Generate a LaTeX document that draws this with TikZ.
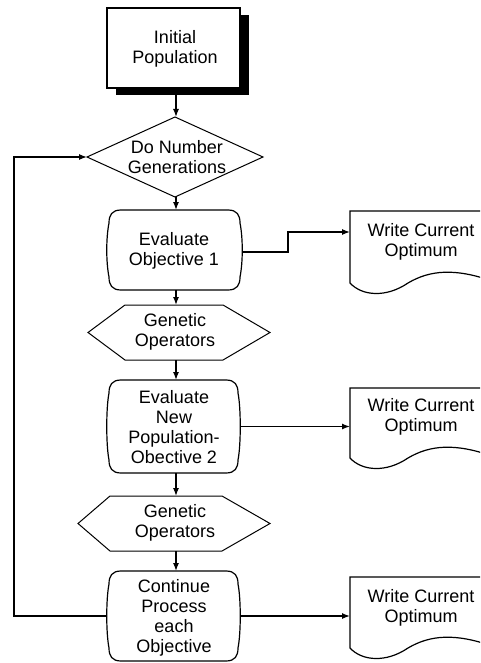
\documentclass[tikz,border=0pt]{standalone}
\usepackage{fontspec}
\setmainfont{Liberation Sans}
\usetikzlibrary{arrows.meta,calc}
\newcommand\evalshape[1]{%
  \draw[shapeline] ($(#1.north west)+(14,0)$) -- ($(#1.north east)+(-14,0)$)
   .. controls ($(#1.north east)+(-5,0)$) and ($(#1.north east)+(-2,5)$) .. ($(#1.north east)+(-2,13)$)
   .. controls ($(#1.north east)+(1,28)$) and ($(#1.south east)+(1,-28)$) .. ($(#1.south east)+(-2,-13)$)
   .. controls ($(#1.south east)+(-2,-5)$) and ($(#1.south east)+(-5,0)$) .. ($(#1.south east)+(-14,0)$)
   -- ($(#1.south west)+(14,0)$)
   .. controls ($(#1.south west)+(5,0)$) and ($(#1.south west)+(2,-5)$) .. ($(#1.south west)+(2,-13)$)
   .. controls ($(#1.south west)+(-1,-28)$) and ($(#1.north west)+(-1,28)$) .. ($(#1.north west)+(2,13)$)
   .. controls ($(#1.north west)+(2,5)$) and ($(#1.north west)+(5,0)$) .. ($(#1.north west)+(14,0)$) -- cycle;}
\newcommand\hexshape[3]{%
  \draw[thinline] (#1.west) -- ($(#1.north west)+(#2,0)$) -- ($(#1.north east)+(-#3,0)$) -- (#1.east)
   -- ($(#1.south east)+(-#3,0)$) -- ($(#1.south west)+(#2,0)$) -- cycle;}
\newcommand\docshape[1]{%
  \draw[docline] (#1.north east) -- (#1.north west) -- (#1.south west)
   .. controls ($(#1.south west)+(12,13)$) and ($(#1.south west)+(36,15)$) .. ($(#1.south west)+(58,0)$)
   .. controls ($(#1.south west)+(80,-13)$) and ($(#1.south west)+(105,-15)$) .. ($(#1.south west)+(142,-2)$)
   -- (#1.north east);}
\begin{document}
\begin{tikzpicture}[x=1pt,y=-1pt,
  shp/.style={inner sep=0pt, outer sep=0pt, draw=none},
  shapeline/.style={line width=1.2pt},
  thinline/.style={line width=1pt},
  docline/.style={line width=1.2pt},
  arr/.style={line width=1.3pt,-{Latex[length=8pt,width=6pt]}},
  lbl/.style={font=\fontsize{18}{20}\selectfont, align=center, inner sep=0pt, text=black}]
\useasboundingbox (0,0) rectangle (480,663);
\begin{scope}
\clip (0,0) rectangle (480,663);
% Initial population box with shadow
\node[shp, minimum width=133pt, minimum height=80pt] (init) at (173.5,48) {};
\fill[black] ($(init.north west)+(9,7)$) rectangle ($(init.south east)+(9,7)$);
\draw[line width=1.4pt, fill=white] (init.north west) rectangle (init.south east);
\node[lbl] (initT) at (175,49) {Initial\\Population};
% diamond
\node[shp, minimum width=176pt, minimum height=80pt] (dia) at (175,157) {};
\draw[thinline] (dia.west) -- (dia.north) -- (dia.east) -- (dia.south) -- cycle;
\node[lbl] (diaT) at (177,157) {Do Number\\Generations};
% evaluate 1
\node[shp, minimum width=135pt, minimum height=80pt] (e1) at (174.5,250) {};
\evalshape{e1}
\node[lbl] (e1T) at (174,251) {Evaluate\\Objective 1};
% hexagon 1
\node[shp, minimum width=182pt, minimum height=55pt] (hex1) at (179,332.5) {};
\hexshape{hex1}{37}{47}
\node[lbl] (hex1T) at (175,332) {Genetic\\Operators};
% evaluate 2
\node[shp, minimum width=133pt, minimum height=93pt] (e2) at (173.5,426.5) {};
\evalshape{e2}
\node[lbl] (e2T) at (174,427) {Evaluate\\New\\Population-\\Obective 2};
% hexagon 2
\node[shp, minimum width=192pt, minimum height=55pt] (hex2) at (174,523.5) {};
\hexshape{hex2}{32}{48}
\node[lbl] (hex2T) at (175,523) {Genetic\\Operators};
% continue
\node[shp, minimum width=133pt, minimum height=90pt] (e3) at (173.5,616) {};
\evalshape{e3}
\node[lbl] (e3T) at (174,618) {Continue\\Process\\each\\Objective};
% documents
\node[shp, minimum width=142pt, minimum height=72pt] (d1) at (421,247) {};
\docshape{d1}
\node[lbl] (d1T) at (421,242) {Write Current\\Optimum};
\node[shp, minimum width=142pt, minimum height=70pt] (d2) at (421,423) {};
\docshape{d2}
\node[lbl] (d2T) at (421,417) {Write Current\\Optimum};
\node[shp, minimum width=142pt, minimum height=71pt] (d3) at (421,612.5) {};
\docshape{d3}
\node[lbl] (d3T) at (421,608) {Write Current\\Optimum};
% connectors
\coordinate (spine) at (176,0);
\coordinate (bend1) at (288,0);
\coordinate (back) at (14,0);
\draw[arr] ($(init.south -| spine)+(0,7)$) -- (dia.north -| spine);
\draw[arr] (dia.south -| spine) -- (e1.north -| spine);
\draw[arr] (e1.south -| spine) -- (hex1.north -| spine);
\draw[arr] (hex1.south -| spine) -- (e2.north -| spine);
\draw[arr] (e2.south -| spine) -- (hex2.north -| spine);
\draw[arr] (hex2.south -| spine) -- (e3.north -| spine);
\draw[arr] ($(e1.east)+(0,2)$) -- ($(e1.east -| bend1)+(0,2)$) |- ($(d1.north west)+(0,21)$);
\draw[arr] (e2.east) -- (e2.east -| d2.west);
\draw[arr] (e3.east) -- (e3.east -| d3.west);
\draw[arr] (e3.west) -- (e3.west -| back) |- (dia.west);
\end{scope}
\end{tikzpicture}
\end{document}
